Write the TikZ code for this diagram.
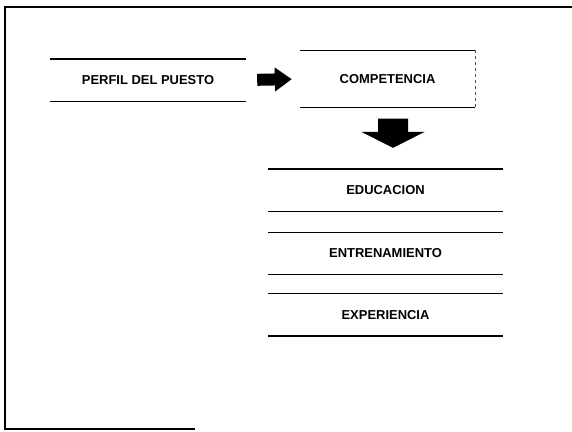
\documentclass[tikz,border=0pt]{standalone}
\usepackage{fontspec}
\setmainfont{Liberation Sans}
\usetikzlibrary{positioning,arrows.meta}
\tikzset{
  box/.style     = {rectangle, draw=none, align=center, inner sep=0pt,
                    minimum height=42bp, font=\fontsize{13}{15}\selectfont\bfseries},
  rule/.style    = {line width=1.4bp, black},
  side/.style    = {line width=0.6bp, black!70, dashed},
  frame/.style   = {line width=1.6bp, black},
  bigflow/.style = {line width=12bp, -{Triangle[length=17bp,width=23bp]}},
  downflow/.style= {line width=30bp, -{Triangle[length=16bp,width=63bp]}},
}
\begin{document}
\begin{tikzpicture}[x=1bp, y=-1bp, node distance=19bp]
  \useasboundingbox (0,0) rectangle (572,431);

  % frame
  \draw[frame] (572,7) -- (5,7) -- (5,429) -- (195,429);

  \node[box, minimum width=196bp] (perfil) at (148,80) {PERFIL DEL PUESTO};
  \node[box, minimum width=175bp, minimum height=57bp] (comp) at (387.5,79) {COMPETENCIA};
  \node[box, minimum width=235bp] (edu) at (385.5,190) {EDUCACION};
  \node[box, minimum width=235bp, below=21bp of edu] (ent) {ENTRENAMIENTO};
  \node[box, minimum width=235bp, below=of ent] (exper) {EXPERIENCIA};

  \foreach \n in {perfil, comp, edu, ent, exper} {
    \draw[rule] (\n.north west) -- (\n.north east);
    \draw[rule] (\n.south west) -- (\n.south east);
  }
  \draw[side] (comp.north east) -- (comp.south east);

  \draw[bigflow, shorten <=11bp, shorten >=8bp] (perfil.east) -- (comp.west);
  \draw[downflow, shorten <=11bp, shorten >=21bp] ([xshift=5.5bp]comp.south) -- ([xshift=7.5bp]edu.north);

\end{tikzpicture}
\end{document}
